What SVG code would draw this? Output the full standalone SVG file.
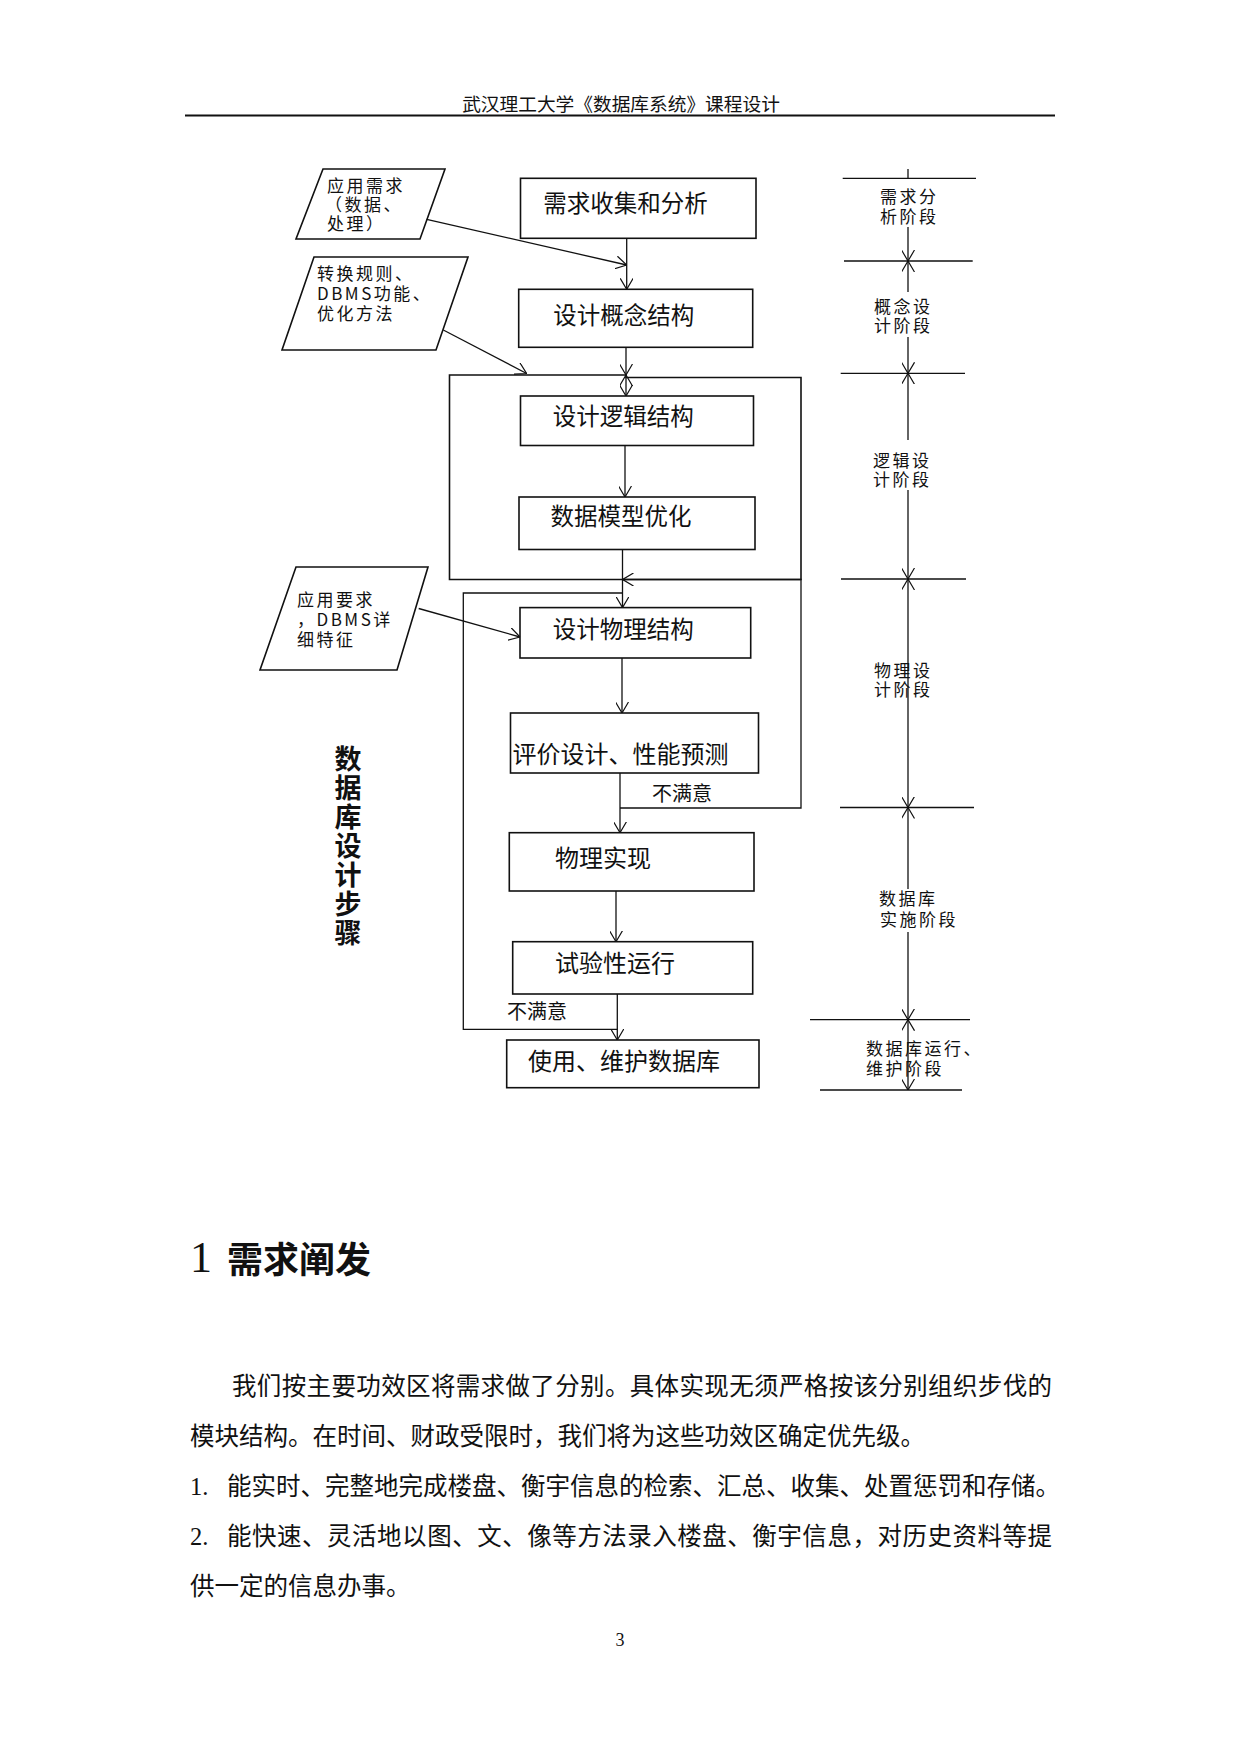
<svg xmlns="http://www.w3.org/2000/svg" width="1241" height="1754" viewBox="0 0 1241 1754">
<style>
.bx{fill:none;stroke:#111;stroke-width:1.6}
.ln{fill:none;stroke:#111;stroke-width:1.3}
.t{font-family:"Noto Sans CJK SC",sans-serif;fill:#111;dominant-baseline:central}
.bt{font-size:23.5px}
.st{font-size:17px;letter-spacing:2.5px}
.body{font-family:"Liberation Serif","Noto Sans CJK SC",serif;font-size:24.5px;fill:#111;dominant-baseline:central}
</style>
<defs>
<marker id="ah" viewBox="0 0 11 13" refX="11" refY="6.5" markerWidth="11" markerHeight="13" markerUnits="userSpaceOnUse" orient="auto-start-reverse">
<path d="M0,0 L11,6.5 L0,13" fill="none" stroke="#111" stroke-width="1.2"/>
</marker>
</defs>
<rect width="1241" height="1754" fill="#fff"/>

<g id="page-header">
<text class="t" x="621" y="102" font-size="18.7" text-anchor="middle" fill="#222">武汉理工大学《数据库系统》课程设计</text>
<line x1="185" y1="115.5" x2="1055" y2="115.5" stroke="#111" stroke-width="2.2"/>
</g>

<g id="title-vertical">
<text x="348" y="745" writing-mode="vertical-rl" font-family="Noto Sans CJK SC, sans-serif" font-size="27" font-weight="bold" letter-spacing="2" fill="#111">数据库设计步骤</text>
</g>

<g id="in1">
<polygon class="bx" points="323,169 445,169 420,239 296,239"/>
<text class="t st"><tspan x="327" y="184">应用需求</tspan><tspan x="325" y="203">（数据、</tspan><tspan x="327" y="222">处理）</tspan></text>
</g>
<g id="in2">
<polygon class="bx" points="314,257 468,257 436,350 282,350"/>
<text class="t st"><tspan x="317" y="272">转换规则、</tspan><tspan x="317" y="292">DBMS功能、</tspan><tspan x="317" y="312">优化方法</tspan></text>
</g>
<g id="in3">
<polygon class="bx" points="296,567 428,567 397,670 260,670"/>
<text class="t st"><tspan x="297" y="598">应用要求</tspan><tspan x="297" y="618">，DBMS详</tspan><tspan x="297" y="638">细特征</tspan></text>
</g>

<g id="n1"><rect class="bx" x="520.5" y="178.3" width="235.5" height="60"/><text class="t bt" x="543.3" y="201.7">需求收集和分析</text></g>
<g id="n2"><rect class="bx" x="518.7" y="289.3" width="234" height="58"/><text class="t bt" x="553.3" y="314">设计概念结构</text></g>
<g id="stageLogic"><path class="bx" d="M449.5,375 H626 V377.5 H801 V579.5 H449.5 Z"/></g>
<g id="n3"><rect class="bx" x="520.5" y="396" width="233" height="49.5"/><text class="t bt" x="552.8" y="415">设计逻辑结构</text></g>
<g id="n4"><rect class="bx" x="519" y="497" width="236" height="52.5"/><text class="t bt" x="550.5" y="515">数据模型优化</text></g>
<g id="n5"><rect class="bx" x="520" y="607.6" width="230.7" height="50.4"/><text class="t bt" x="552.8" y="627.5">设计物理结构</text></g>
<g id="n6"><rect class="bx" x="510.5" y="713" width="248" height="60"/><text class="t" font-size="24" x="512.5" y="752">评价设计、性能预测</text></g>
<g id="n7"><rect class="bx" x="509.3" y="832.7" width="244.7" height="58.3"/><text class="t" font-size="24" x="555" y="856.7">物理实现</text></g>
<g id="n8"><rect class="bx" x="512.7" y="941.7" width="240" height="52.3"/><text class="t" font-size="24" x="555" y="961.7">试验性运行</text></g>
<g id="n9"><rect class="bx" x="506.7" y="1040" width="252.3" height="47.7"/><text class="t" font-size="24" x="528" y="1059.3">使用、维护数据库</text></g>

<g id="connectors">
<path class="ln" d="M626.7,238.3 V289.3" marker-end="url(#ah)"/>
<path class="ln" d="M426.7,219.3 L626.7,265" marker-end="url(#ah)"/>
<path class="ln" d="M443.3,330 L526.6,373.5" marker-end="url(#ah)"/>
<path class="ln" d="M626,347.3 V375" marker-end="url(#ah)"/>
<path class="ln" d="M626,375 V396" marker-start="url(#ah)" marker-end="url(#ah)"/>
<path class="ln" d="M625,445.5 V497" marker-end="url(#ah)"/>
<path class="ln" d="M622.5,549.5 V607.6" marker-end="url(#ah)"/>
<path class="ln" d="M622,658 V713" marker-end="url(#ah)"/>
<path class="ln" d="M620,773 V832.7" marker-end="url(#ah)"/>
<path class="ln" d="M616,891 V941.7" marker-end="url(#ah)"/>
<path class="ln" d="M617.3,994 V1040" marker-end="url(#ah)"/>
<path class="ln" d="M418.7,608.5 L520,637" marker-end="url(#ah)"/>
<path class="ln" d="M620,808 H801 V579.5 H622.5" marker-end="url(#ah)"/>
<path class="ln" d="M622,593 H463.3 V1029.3 H617.3"/>
<text class="t" font-size="20" x="652" y="792">不满意</text>
<text class="t" font-size="20" x="507" y="1010.7">不满意</text>
</g>

<g id="timeline">
<path class="ln" d="M842.7,178.3 H976 M844,261 H972.7 M840.7,373.3 H965 M841,579 H966 M840,807.5 H974 M810,1019.7 H970 M820,1090 H962"/>
<path class="ln" d="M908,169 V178.3"/>
<path class="ln" d="M908,227 V261" marker-end="url(#ah)"/>
<path class="ln" d="M908,261 V292" marker-start="url(#ah)"/>
<path class="ln" d="M908,337 V373.3" marker-end="url(#ah)"/>
<path class="ln" d="M908,373.3 V440" marker-start="url(#ah)"/>
<path class="ln" d="M908,490 V579" marker-end="url(#ah)"/>
<path class="ln" d="M908,579 V807.5" marker-start="url(#ah)" marker-end="url(#ah)"/>
<path class="ln" d="M908,807.5 V889" marker-start="url(#ah)"/>
<path class="ln" d="M908,932 V1019.7" marker-end="url(#ah)"/>
<path class="ln" d="M908,1019.7 V1090" marker-start="url(#ah)" marker-end="url(#ah)"/>
<text class="t st"><tspan x="880" y="195">需求分</tspan><tspan x="880" y="215">析阶段</tspan></text>
<text class="t st"><tspan x="874" y="305">概念设</tspan><tspan x="874" y="324">计阶段</tspan></text>
<text class="t st"><tspan x="873" y="458.5">逻辑设</tspan><tspan x="873" y="477.5">计阶段</tspan></text>
<text class="t st"><tspan x="874" y="669">物理设</tspan><tspan x="874" y="688">计阶段</tspan></text>
<text class="t st"><tspan x="879" y="897">数据库</tspan><tspan x="880" y="918">实施阶段</tspan></text>
<text class="t st"><tspan x="866" y="1047">数据库运行、</tspan><tspan x="866" y="1067">维护阶段</tspan></text>
</g>

<g id="body">
<text class="body" x="190" y="1257" style="font-size:44px">1</text>
<text class="t" x="227" y="1257" font-size="36" font-weight="bold">需求阐发</text>
<text class="body" x="232" y="1386.5" textLength="820" lengthAdjust="spacing">我们按主要功效区将需求做了分别。具体实现无须严格按该分别组织步伐的</text>
<text class="body" x="190" y="1436.8">模块结构。在时间、财政受限时，我们将为这些功效区确定优先级。</text>
<text class="body" y="1486"><tspan x="190">1.</tspan><tspan x="227">能实时、完整地完成楼盘、衡宇信息的检索、汇总、收集、处置惩罚和存储。</tspan></text>
<text class="body" y="1536.4"><tspan x="190">2.</tspan><tspan x="227" textLength="825" lengthAdjust="spacing">能快速、灵活地以图、文、像等方法录入楼盘、衡宇信息，对历史资料等提</tspan></text>
<text class="body" x="190" y="1586.7">供一定的信息办事。</text>
<text class="body" x="620" y="1640" text-anchor="middle" style="font-size:18px">3</text>
</g>
</svg>
